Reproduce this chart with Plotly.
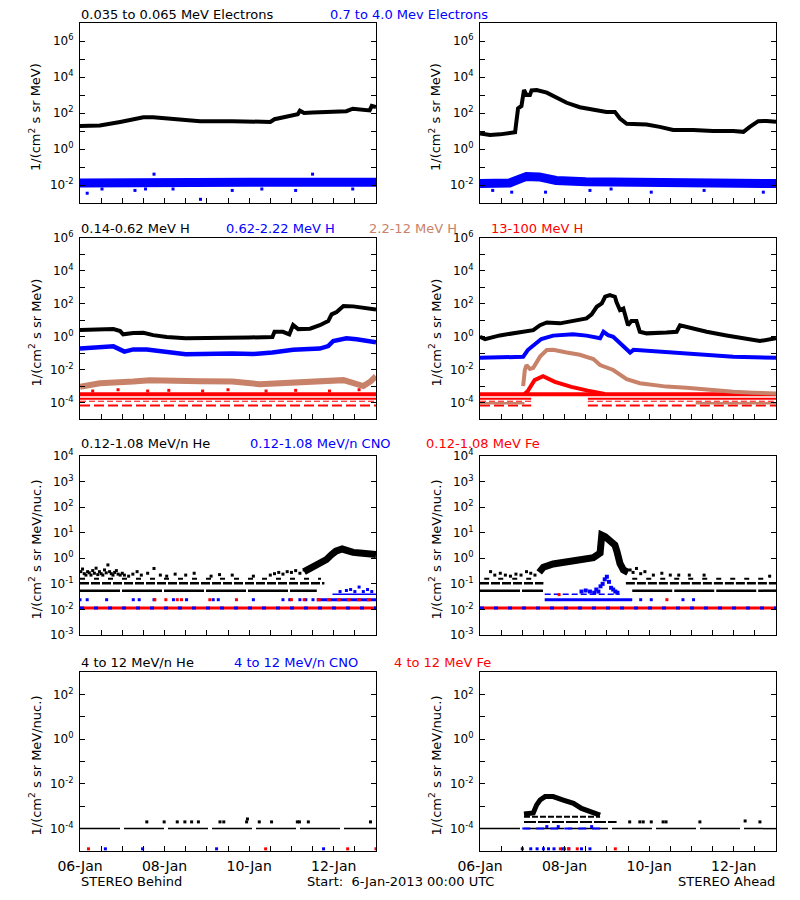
import plotly.graph_objects as go
import pandas as pd

T0 = pd.Timestamp("2013-01-06 00:00")
BLACK = "#000000"
BLUE = "#0000FF"
BROWN = "#C8826A"
RED = "#FF0000"
FONT = "DejaVu Sans"

# ================= Row 1 : electrons =================
# STEREO Behind
e_lo_b_day = [0, 0.47, 0.95, 1.26, 1.5, 1.73, 2.05, 2.36, 2.84, 3.6, 4.2, 4.5, 4.6, 4.9, 5.15, 5.2, 5.3, 5.5,
              6.0, 6.3, 6.45, 6.75, 6.85, 6.9, 7.0]
e_lo_b_val = [19, 20, 32, 45, 58, 58, 49, 41, 35, 35, 32, 32, 45, 63, 85, 135, 100, 105,
              112, 126, 174, 135, 140, 250, 215]
e_hi_b_day = [0, 1, 2, 3, 4, 5, 6, 7]
e_hi_b_val = [0.013, 0.014, 0.014, 0.015, 0.014, 0.014, 0.015, 0.014]
e_hi_b_out_day = [0.17, 0.52, 1.3, 1.55, 2.2, 2.85, 3.6, 4.3, 5.1, 6.45, 1.75, 5.5]
e_hi_b_out_val = [0.0035, 0.006, 0.005, 0.006, 0.006, 0.0016, 0.005, 0.006, 0.005, 0.006, 0.04, 0.04]
# STEREO Ahead
e_lo_a_day = [0, 0.24, 0.47, 0.79, 0.83, 0.85, 0.87, 0.9, 0.98, 1.02, 1.04, 1.1, 1.18, 1.22, 1.34, 1.58, 1.81,
              2.05, 2.36, 2.68, 2.99, 3.19, 3.31, 3.47, 3.78, 3.94, 4.25, 4.57, 5.04, 5.51, 5.99, 6.23, 6.38,
              6.58, 6.78, 7.0]
e_lo_a_val = [7.4, 6.0, 6.5, 8, 8.5, 21, 78, 180, 245, 1000, 1900, 1000, 1000, 1800, 1900, 1350, 740,
              370, 210, 160, 115, 115, 49, 25, 25, 23, 17, 11.5, 11.5, 10, 10, 9, 17,
              35, 36, 33]
e_hi_a_day = [0, 0.7, 0.9, 1.1, 1.4, 1.8, 2.5, 4.0, 5.5, 7.0]
e_hi_a_val = [0.012, 0.013, 0.02, 0.03, 0.028, 0.018, 0.015, 0.013, 0.013, 0.012]
e_hi_a_out_day = [0.3, 0.75, 1.55, 2.6, 3.1, 4.05, 5.3, 6.7]
e_hi_a_out_val = [0.005, 0.004, 0.004, 0.005, 0.006, 0.004, 0.005, 0.004]

# ================= Row 2 : protons =================
h1_b_day = [0, 0.47, 0.79, 0.95, 1.02, 1.26, 1.5, 1.73, 2.05, 2.5, 3.2, 4.0, 4.55, 4.6, 4.8, 4.95, 5.04,
            5.16, 5.44, 5.67, 5.87, 5.95, 6.07, 6.23, 6.46, 6.78, 7.0]
h1_b_val = [2.6, 2.8, 2.9, 2.2, 1.4, 1.7, 1.75, 1.25, 0.95, 0.8, 0.8, 0.9, 0.95, 2.0, 2.0, 1.4, 5.1,
            2.9, 3.1, 5.0, 9, 23, 32, 74, 70, 54, 45]
h2_b_day = [0, 0.79, 1.05, 1.26, 1.58, 2.05, 2.5, 3.6, 4.1, 4.55, 5.04, 5.67, 5.87, 5.99, 6.3, 6.54, 7.0]
h2_b_val = [0.195, 0.26, 0.125, 0.17, 0.165, 0.11, 0.085, 0.095, 0.09, 0.11, 0.16, 0.19, 0.27, 0.55,
            0.8, 0.7, 0.46]
h3_b_day = [0, 0.47, 1.26, 1.65, 2.84, 3.6, 4.25, 4.8, 5.6, 6.23, 6.7, 6.87, 7.0]
h3_b_val = [9e-4, 1.5e-3, 1.9e-3, 2.3e-3, 2.0e-3, 1.9e-3, 1.3e-3, 1.5e-3, 1.9e-3, 2.3e-3, 1.0e-3,
            1.9e-3, 4e-3]
h4_levels = [3.2e-4, 1.7e-4, 1.2e-4, 6.5e-5]
h4_b_span = [0, 7.0]
h4_a_span_low = [0, 1.21, None, 2.55, 7.0]
h4_out_day = [0.3, 0.9, 1.6, 2.1, 2.9, 3.5, 4.4, 5.1, 5.9, 6.6]
h4_out_val = [5e-4, 6e-4, 5e-4, 5.5e-4, 5e-4, 6e-4, 5e-4, 5.5e-4, 5e-4, 6e-4]

h1_a_day = [0, 0.12, 0.47, 0.79, 1.1, 1.26, 1.42, 1.58, 1.89, 2.05, 2.36, 2.52, 2.64, 2.76, 2.88, 2.96,
            3.07, 3.19, 3.23, 3.31, 3.39, 3.45, 3.5, 3.58, 3.7, 3.78, 3.94, 4.41, 4.65, 4.73, 4.96, 5.36,
            5.83, 6.3, 6.62, 7.0]
h1_a_val = [1.0, 0.72, 1.2, 1.6, 2.0, 2.5, 5.0, 7.4, 6.5, 8, 10.7, 13, 23, 66, 107, 270,
            340, 270, 123, 42, 52, 12, 5, 9, 9, 2.0, 1.6, 1.8, 2.0, 5.0, 3.5, 2.0,
            1.2, 0.7, 0.55, 0.8]
h2_a_day = [0, 1.02, 1.13, 1.26, 1.45, 1.73, 2.2, 2.52, 2.84, 2.92, 3.03, 3.15, 3.31, 3.47, 3.55, 3.63,
            4.41, 5.2, 5.99, 7.0]
h2_a_val = [0.053, 0.06, 0.155, 0.28, 0.72, 1.17, 1.4, 1.17, 0.8, 2.0, 1.25, 1.0, 0.4, 0.155, 0.11, 0.16,
            0.12, 0.085, 0.06, 0.053]
h3_a_day = [1.02, 1.06, 1.10, 1.18, 1.26, 1.42, 1.58, 1.73, 2.05, 2.36, 2.68, 2.84, 3.15, 3.31, 3.47,
            3.78, 4.1, 4.41, 4.88, 5.51, 5.99, 6.46, 7.0]
h3_a_val = [1e-3, 9.5e-3, 0.019, 0.011, 0.013, 0.062, 0.155, 0.16, 0.11, 0.08, 0.044, 0.019, 9.5e-3,
            4.7e-3, 2.6e-3, 1.5e-3, 1.2e-3, 9.3e-4, 8e-4, 5.7e-4, 4.5e-4, 4e-4, 3.5e-4]
h3_a_base_day = [0, 1.05, None, 5.1, 7.0]
h3_a_base_val = [9e-5, 9e-5, None, 9e-5, 9e-5]
h4_a_day = [1.05, 1.13, 1.29, 1.49, 1.77, 2.16, 2.55, 2.95]
h4_a_val = [3.2e-4, 5e-4, 2.3e-3, 4e-3, 1.8e-3, 9e-4, 5.3e-4, 3.3e-4]

# ================= Row 3 : 0.12-1.08 MeV/n ions =================
he_levels = [0.16, 0.105, 0.054]
he_b_spans = [[0, 5.7], [0, 5.78], [0, 5.6]]
he_a_spans = [[0.1, 1.4, None, 3.6, 6.9], [0, 1.5, None, 3.45, 7.0], [0, 1.49, None, 3.6, 7.0]]
he_b_pts_day = [0.02, 0.06, 0.1, 0.14, 0.18, 0.22, 0.26, 0.3, 0.34, 0.38, 0.42, 0.46, 0.5, 0.54, 0.58,
                0.62, 0.66, 0.7, 0.74, 0.78, 0.82, 0.86, 0.9, 0.95, 1.0, 1.05, 1.15, 1.25, 1.35, 1.45,
                1.6, 1.75, 1.9, 2.05, 2.25, 2.5, 2.7, 3.1, 3.3, 3.6, 4.1, 4.5, 4.6, 4.7, 4.8, 4.9, 5.0,
                5.1, 5.2, 5.3]
he_b_pts_val = [0.3, 0.38, 0.25, 0.22, 0.3, 0.27, 0.22, 0.33, 0.26, 0.41, 0.23, 0.3, 0.25, 0.22, 0.35,
                0.27, 0.55, 0.3, 0.25, 0.22, 0.28, 0.33, 0.24, 0.22, 0.26, 0.22, 0.2, 0.24, 0.3, 0.22,
                0.26, 0.4, 0.22, 0.2, 0.24, 0.22, 0.26, 0.2, 0.23, 0.22, 0.2, 0.22, 0.25, 0.28, 0.24, 0.3,
                0.28, 0.33, 0.26, 0.35]
he_b_rise_day = [5.3, 5.5, 5.67, 5.83, 5.95, 6.05, 6.2, 6.3, 6.46, 6.62, 6.78, 7.0]
he_b_rise_val = [0.3, 0.45, 0.6, 0.9, 1.4, 1.9, 2.3, 2.0, 1.7, 1.6, 1.5, 1.4]
he_a_evt_day = [1.4, 1.5, 1.73, 2.05, 2.36, 2.68, 2.84, 2.88, 2.96, 3.07, 3.19, 3.24, 3.27, 3.31, 3.39, 3.5]
he_a_evt_val = [0.28, 0.45, 0.6, 0.72, 0.85, 1.05, 1.6, 8.1, 7.0, 4.8, 3.3, 1.8, 0.85, 0.63, 0.35, 0.28]
he_a_pts_day = [0.25, 0.35, 0.48, 0.6, 0.72, 0.85, 0.97, 1.1, 1.2, 1.3, 3.45, 3.55, 3.62, 3.7, 3.8, 3.9,
                4.1, 4.3, 4.5, 4.7, 4.95, 5.3, 6.85]
he_a_pts_val = [0.3, 0.22, 0.26, 0.22, 0.2, 0.24, 0.22, 0.3, 0.26, 0.22, 0.3, 0.35, 0.28, 0.4, 0.25, 0.3,
                0.22, 0.26, 0.22, 0.22, 0.22, 0.22, 0.2]
ion_base_level = 0.0115
ion_mid_level = 0.024
cno_hi_level = 0.039
cno_b_dot_day = [0, 0.17, 0.63, 1.26, 1.4, 1.75, 2.21, 2.52, 3.15, 3.27, 4.1, 4.8, 4.96, 5.2, 5.34, 5.51]
fe_b_dot_day = [1.77, 2.03, 2.3, 2.4, 3.07, 3.7, 5.0, 5.3]
ion_b_mid_span = [5.6, 7.0]
cno_b_hi_span = [5.97, 7.0]
cno_b_bump_day = [6.15, 6.3, 6.4, 6.5, 6.6, 6.7, 6.8, 6.9]
cno_b_bump_val = [0.05, 0.055, 0.06, 0.05, 0.075, 0.05, 0.06, 0.05]
cno_a_mid_span = [1.53, 3.6]
cno_a_hi_span = [1.53, 3.3]
cno_a_dot_day = [3.8, 4.05, 4.8, 5.05]
fe_a_dot_day = [1.87, 4.42]
fe_a_dot_val = [0.038, 0.024]
cno_a_bump_day = [2.4, 2.5, 2.6, 2.7, 2.75, 2.8, 2.85, 2.9, 2.95, 3.0, 3.05, 3.1, 3.15, 3.2, 3.25]
cno_a_bump_val = [0.05, 0.055, 0.05, 0.045, 0.06, 0.05, 0.08, 0.1, 0.15, 0.19, 0.12, 0.07, 0.06, 0.05, 0.045]

# ================= Row 4 : 4-12 MeV/n ions =================
he4_floor = 1e-4
he4_b_dot_day = [1.58, 1.99, 2.3, 2.48, 2.64, 2.8, 3.31, 3.4, 3.94, 3.96, 4.24, 4.53, 5.14, 5.19, 5.4, 6.87]
he4_b_dot_val = [2e-4, 2e-4, 2e-4, 2e-4, 2e-4, 2e-4, 2e-4, 2e-4, 2e-4, 2.7e-4, 2e-4, 2e-4, 2e-4, 2e-4,
                 2e-4, 2e-4]
bottom_level = 1.25e-5
fe4_b_bot_day = [0.2, 4.39, 6.33, 7.0]
cno4_b_bot_day = [0.6, 1.48, 3.23, 5.76]
he4_a_evt_day = [1.04, 1.26, 1.34, 1.42, 1.54, 1.73, 1.97, 2.21, 2.4, 2.64, 2.84]
he4_a_evt_val = [4.5e-4, 5e-4, 1.15e-3, 1.9e-3, 2.7e-3, 2.7e-3, 1.9e-3, 1.35e-3, 8e-4, 5.5e-4, 4e-4]
he4_a_rows = [3.4e-4, 2e-4]
he4_a_row_spans = [[1.04, 2.84], [1.04, 3.23]]
he4_a_dot_day = [3.54, 3.78, 3.86, 4.05, 4.33, 4.4, 5.2, 6.27, 6.62]
he4_a_dot_val = [2e-4, 2e-4, 2e-4, 2e-4, 2e-4, 2e-4, 2e-4, 2.2e-4, 2e-4]
cno4_a_span = [1.0, 2.9]
cno4_a_dot_day = [1.58, 1.85, 2.64]
cno4_a_dot_val = [1.23e-4, 1.23e-4, 1.23e-4]
cno4_a_bot_day = [1.0, 1.2, 1.35, 1.5, 1.62, 1.75, 1.95, 2.1, 2.4, 2.6]
fe4_a_bot_day = [1.9, 2.0, 2.1, 2.3, 3.2]

# ================= figure =================
fig = go.Figure()


def tx(days):
    return [None if d is None else T0 + pd.Timedelta(days=d) for d in days]


def ax(p):
    return ("x", "y") if p == 1 else (f"x{p}", f"y{p}")


def line(p, days, vals, color, width, dash="solid"):
    xa, ya = ax(p)
    fig.add_trace(go.Scatter(x=tx(days), y=vals, mode="lines", xaxis=xa, yaxis=ya,
                             line=dict(color=color, width=width, dash=dash),
                             showlegend=False, hoverinfo="skip"))


def pts(p, days, vals, color, size=3):
    xa, ya = ax(p)
    fig.add_trace(go.Scatter(x=tx(days), y=vals, mode="markers", xaxis=xa, yaxis=ya,
                             marker=dict(symbol="square", size=size, color=color, line=dict(width=0)),
                             showlegend=False, hoverinfo="skip"))


def level(p, span, value, color, width, dash="solid"):
    line(p, span, [None if d is None else value for d in span], color, width, dash)


# Row 1
line(1, e_hi_b_day, e_hi_b_val, BLUE, 9)
pts(1, e_hi_b_out_day, e_hi_b_out_val, BLUE, 3)
line(1, e_lo_b_day, e_lo_b_val, BLACK, 4)
line(2, e_hi_a_day, e_hi_a_val, BLUE, 9)
pts(2, e_hi_a_out_day, e_hi_a_out_val, BLUE, 3)
line(2, e_lo_a_day, e_lo_a_val, BLACK, 4)

# Row 2 left
level(3, h4_b_span, h4_levels[0], RED, 4)
level(3, h4_b_span, h4_levels[1], RED, 2)
level(3, h4_b_span, h4_levels[2], RED, 1, "6px,3px")
level(3, h4_b_span, h4_levels[3], RED, 2, "10px,4px")
pts(3, h4_out_day, h4_out_val, RED, 3)
line(3, h3_b_day, h3_b_val, BROWN, 6)
line(3, h2_b_day, h2_b_val, BLUE, 4.5)
line(3, h1_b_day, h1_b_val, BLACK, 4)
# Row 2 right
level(4, h4_b_span, h4_levels[0], RED, 4)
level(4, h4_a_span_low, h4_levels[1], RED, 2)
level(4, h4_a_span_low, h4_levels[2], RED, 1, "6px,3px")
level(4, h4_a_span_low, h4_levels[3], RED, 2, "10px,4px")
line(4, h3_a_base_day, h3_a_base_val, BROWN, 2.5)
line(4, h4_a_day, h4_a_val, RED, 4)
line(4, h3_a_day, h3_a_val, BROWN, 4)
line(4, h2_a_day, h2_a_val, BLUE, 4)
line(4, h1_a_day, h1_a_val, BLACK, 4)

# Row 3 left
level(5, [0, 7.0], ion_base_level, RED, 3)
level(5, [0, 7.0], ion_base_level, BLUE, 3, "4px,10px")
pts(5, cno_b_dot_day, [ion_mid_level] * len(cno_b_dot_day), BLUE, 3)
pts(5, fe_b_dot_day, [ion_mid_level] * len(fe_b_dot_day), RED, 3)
level(5, ion_b_mid_span, ion_mid_level, BLUE, 3)
level(5, ion_b_mid_span, ion_mid_level, RED, 3, "4px,6px")
level(5, cno_b_hi_span, cno_hi_level, BLUE, 1.5)
pts(5, cno_b_bump_day, cno_b_bump_val, BLUE, 3)
level(5, he_b_spans[0], he_levels[0], BLACK, 2, "5px,9px")
level(5, he_b_spans[1], he_levels[1], BLACK, 2.5, "9px,2px")
level(5, he_b_spans[2], he_levels[2], BLACK, 2.5, "40px,2px")
pts(5, he_b_pts_day, he_b_pts_val, BLACK, 3)
line(5, he_b_rise_day, he_b_rise_val, BLACK, 7)
# Row 3 right
level(6, [0, 7.0], ion_base_level, RED, 3)
level(6, [0, 7.0], ion_base_level, BLUE, 3, "4px,10px")
level(6, cno_a_mid_span, ion_mid_level, BLUE, 3)
level(6, cno_a_hi_span, cno_hi_level, BLUE, 1.5, "6px,3px")
pts(6, cno_a_dot_day, [ion_mid_level] * len(cno_a_dot_day), BLUE, 3)
pts(6, fe_a_dot_day, fe_a_dot_val, RED, 3)
pts(6, cno_a_bump_day, cno_a_bump_val, BLUE, 4)
level(6, he_a_spans[0], he_levels[0], BLACK, 2, "5px,9px")
level(6, he_a_spans[1], he_levels[1], BLACK, 2.5, "9px,2px")
level(6, he_a_spans[2], he_levels[2], BLACK, 2.5, "40px,2px")
pts(6, he_a_pts_day, he_a_pts_val, BLACK, 3)
line(6, he_a_evt_day, he_a_evt_val, BLACK, 7)

# Row 4 left
level(7, [0, 7.0], he4_floor, BLACK, 1.5, "40px,4px")
pts(7, he4_b_dot_day, he4_b_dot_val, BLACK, 3)
pts(7, fe4_b_bot_day, [bottom_level] * len(fe4_b_bot_day), RED, 3)
pts(7, cno4_b_bot_day, [bottom_level] * len(cno4_b_bot_day), BLUE, 3)
# Row 4 right
level(8, [0, 7.0], he4_floor, BLACK, 1.5, "40px,4px")
level(8, cno4_a_span, he4_floor, BLUE, 2, "8px,6px")
pts(8, cno4_a_dot_day, cno4_a_dot_val, BLUE, 3)
pts(8, cno4_a_bot_day, [bottom_level] * len(cno4_a_bot_day), BLUE, 3)
pts(8, fe4_a_bot_day, [bottom_level] * len(fe4_a_bot_day), RED, 3)
level(8, he4_a_row_spans[0], he4_a_rows[0], BLACK, 2, "6px,2px")
level(8, he4_a_row_spans[1], he4_a_rows[1], BLACK, 2, "12px,2px")
pts(8, he4_a_dot_day, he4_a_dot_val, BLACK, 3)
line(8, he4_a_evt_day, he4_a_evt_val, BLACK, 5)

# ================= axes =================
OFF = 8                      # page body margin of the html page
W, H = 800 - OFF, 900 - OFF  # figure size so that it fits the 800x900 window


def px(x):
    return (x - OFF) / W


def py(y):
    return 1 - (y - OFF) / H


col_px = [(80, 376), (480, 776)]
row_px = [(23, 203), (238, 419), (456, 635), (672, 851)]
row_range = [(-3, 7), (-5, 6), (-3, 4), (-5, 3)]
row_label_step = [2, 2, 1, 2]

major_days = [0, 2, 4, 6]
minor_days = [i * 0.5 for i in range(15)]
date_labels = ["06-Jan", "08-Jan", "10-Jan", "12-Jan"]

tfont = dict(family=FONT, size=12, color=BLACK)
layout = {}
for r in range(4):
    lo, hi = row_range[r]
    exps = list(range(lo, hi + 1))
    lab_exps = [e for e in exps if e % row_label_step[r] == 0]
    ytv = [10.0 ** e for e in lab_exps]
    ytt = [f"10<sup>{e}</sup>" for e in lab_exps]
    yminor = [10.0 ** e for e in exps]
    for c in range(2):
        p = r * 2 + c + 1
        xk = "xaxis" if p == 1 else f"xaxis{p}"
        yk = "yaxis" if p == 1 else f"yaxis{p}"
        xa, ya = ax(p)
        layout[xk] = dict(
            type="date", domain=[px(col_px[c][0]), px(col_px[c][1])], anchor=ya, automargin=False,
            range=[tx([0])[0], tx([7.0])[0]], showgrid=False, zeroline=False,
            showline=True, linecolor=BLACK, linewidth=1, mirror=True,
            ticks="inside", ticklen=5, tickwidth=1, tickcolor=BLACK,
            tickmode="array", tickvals=tx(major_days), ticktext=date_labels,
            minor=dict(ticks="inside", ticklen=5, tickwidth=1, tickcolor=BLACK,
                       tickmode="array", tickvals=tx(minor_days), showgrid=False),
            showticklabels=(r == 3), tickfont=dict(family=FONT, size=14, color=BLACK),
            ticklabelstandoff=2,
        )
        layout[yk] = dict(
            type="log", domain=[py(row_px[r][1]), py(row_px[r][0])], anchor=xa, automargin=False,
            range=[lo, hi], showgrid=False, zeroline=False,
            showline=True, linecolor=BLACK, linewidth=1, mirror="ticks",
            ticks="inside", ticklen=5, tickwidth=1, tickcolor=BLACK,
            tickmode="array", tickvals=ytv, ticktext=ytt,
            minor=dict(ticks="inside", ticklen=5, tickwidth=1, tickcolor=BLACK,
                       tickmode="array", tickvals=yminor, showgrid=False),
            tickfont=tfont, ticklabelstandoff=3,
        )

# ================= text =================
titles = [
    (14, [(80, "0.035 to 0.065 MeV Electrons", BLACK), (329, "0.7 to 4.0 Mev Electrons", BLUE)]),
    (228, [(80, "0.14-0.62 MeV H", BLACK), (225, "0.62-2.22 MeV H", BLUE),
           (368, "2.2-12 MeV H", BROWN), (490, "13-100 MeV H", RED)]),
    (443, [(80, "0.12-1.08 MeV/n He", BLACK), (249, "0.12-1.08 MeV/n CNO", BLUE),
           (425, "0.12-1.08 MeV Fe", RED)]),
    (662, [(80, "4 to 12 MeV/n He", BLACK), (233, "4 to 12 MeV/n CNO", BLUE),
           (393, "4 to 12 MeV Fe", RED)]),
]
ann = []
for ypx, items in titles:
    for xpx, txt, col in items:
        ann.append(dict(x=px(xpx), y=py(ypx), xref="paper", yref="paper", text=txt,
                        showarrow=False, xanchor="left", yanchor="middle", borderpad=0,
                        font=dict(family=FONT, size=13, color=col)))

ytitles = ["1/(cm<sup>2</sup> s sr MeV)", "1/(cm<sup>2</sup> s sr MeV)",
           "1/(cm<sup>2</sup> s sr MeV/nuc.)", "1/(cm<sup>2</sup> s sr MeV/nuc.)"]
for r in range(4):
    yc = (row_px[r][0] + row_px[r][1]) / 2 + 4
    for xc in (35, 435):
        ann.append(dict(x=px(xc), y=py(yc), xref="paper", yref="paper", text=ytitles[r],
                        showarrow=False, textangle=-90, xanchor="center", yanchor="middle", borderpad=0,
                        font=dict(family=FONT, size=13, color=BLACK)))

footer = [(80, "left", "STEREO Behind"), (400, "center", "Start:\u00a0\u00a06-Jan-2013 00:00 UTC"),
          (776, "right", "STEREO Ahead")]
for xpx, anc, txt in footer:
    ann.append(dict(x=px(xpx), y=py(881), xref="paper", yref="paper", text=txt, showarrow=False,
                    xanchor=anc, yanchor="middle", borderpad=0,
                    font=dict(family=FONT, size=13, color=BLACK)))

fig.update_layout(template="none", width=W, height=H, margin=dict(l=0, r=0, t=0, b=0, pad=0),
                  paper_bgcolor="white", plot_bgcolor="white", showlegend=False, annotations=ann,
                  font=dict(family=FONT), **layout)
fig.write_html("out.html")
